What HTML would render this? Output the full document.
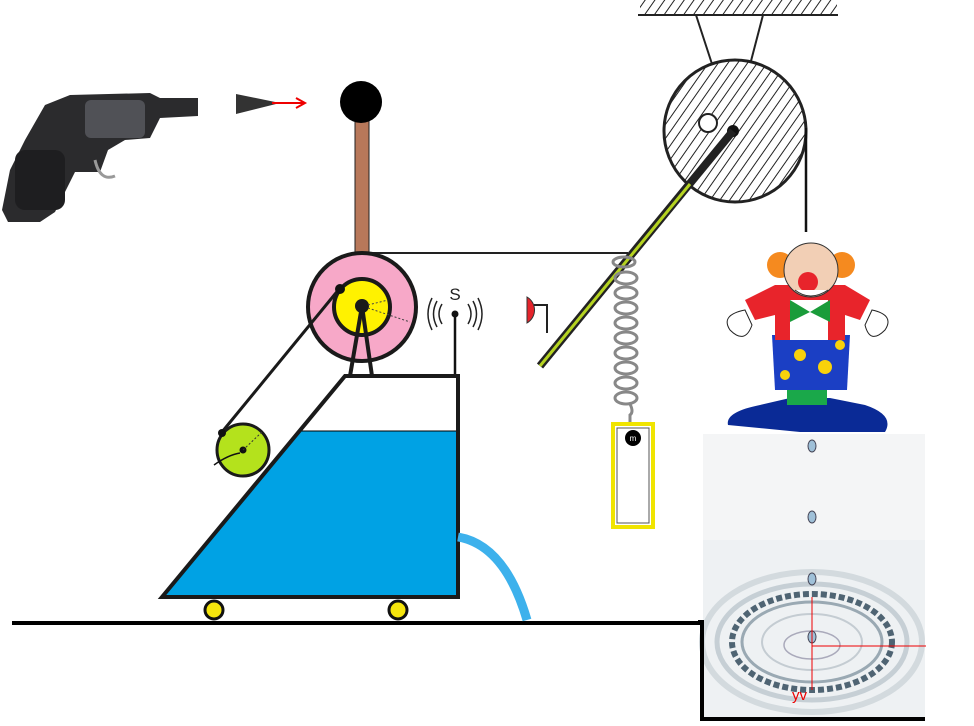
<!DOCTYPE html>
<html><head><meta charset="utf-8"><style>html,body{margin:0;padding:0;background:#fff;width:974px;height:726px;overflow:hidden}</style></head>
<body>
<svg width="974" height="726" viewBox="0 0 974 726" xmlns="http://www.w3.org/2000/svg" style="font-family:'Liberation Sans',sans-serif">
<defs>
<pattern id="h" width="8" height="8" patternUnits="userSpaceOnUse" patternTransform="rotate(35)">
<line x1="0" y1="0" x2="0" y2="8" stroke="#222" stroke-width="2"/></pattern>
</defs>
<!-- gun (revolver) -->
<g>
<path d="M70,95 L150,93 L160,98 L198,98 L198,116 L160,118 L150,138 L125,140 L108,150 L100,172 L75,172 L55,212 L40,222 L8,222 L2,210 L10,170 L25,140 L45,105 Z" fill="#2b2b2d"/>
<rect x="85" y="100" width="60" height="38" rx="6" fill="#505156"/>
<path d="M95,160 Q100,182 115,176" stroke="#999" stroke-width="3" fill="none"/>
<rect x="15" y="150" width="50" height="60" rx="10" fill="#1e1e20"/>
</g>
<!-- bullet -->
<path d="M236,94 L280,103 L236,114 Z" fill="#333"/>
<line x1="272" y1="103" x2="304" y2="103" stroke="#e00" stroke-width="2"/>
<path d="M296,98 L305,103 L296,108" stroke="#e00" stroke-width="2" fill="none"/>
<!-- rod & ball -->
<rect x="355" y="115" width="14" height="140" fill="#b8785a" stroke="#222" stroke-width="1"/>
<circle cx="361" cy="102" r="21" fill="#000"/>
<!-- ceiling -->
<rect x="640" y="0" width="197" height="15" fill="url(#h)"/>
<line x1="638" y1="15" x2="838" y2="15" stroke="#222" stroke-width="2"/>
<line x1="696" y1="15" x2="712" y2="64" stroke="#222" stroke-width="2"/>
<line x1="763" y1="15" x2="733" y2="130" stroke="#222" stroke-width="2"/>
<!-- big pulley -->
<circle cx="735" cy="131" r="71" fill="#fff"/>
<circle cx="735" cy="131" r="71" fill="url(#h)" stroke="#222" stroke-width="3"/>
<circle cx="708" cy="123" r="9" fill="#fff" stroke="#222" stroke-width="2"/>
<circle cx="733" cy="131" r="6" fill="#111"/>
<line x1="806" y1="128" x2="806" y2="232" stroke="#111" stroke-width="2.5"/>
<!-- lever rod -->
<line x1="733" y1="131" x2="540" y2="366" stroke="#222" stroke-width="8"/>
<line x1="690" y1="184" x2="540" y2="366" stroke="#b5d321" stroke-width="3"/>
<!-- string -->
<line x1="369" y1="253" x2="628" y2="253" stroke="#222" stroke-width="2"/>
<!-- red bumper -->
<path d="M527,297 A15,15 0 0 1 527,323 Z" fill="#e4242b" stroke="#333" stroke-width="1"/>
<polyline points="534,305 547,305 547,333" stroke="#222" stroke-width="2" fill="none"/>
<!-- spring -->
<g stroke="#888" stroke-width="3" fill="none">
<ellipse cx="624" cy="262" rx="11" ry="5"/>
<ellipse cx="626" cy="278" rx="11" ry="6"/><ellipse cx="626" cy="293" rx="11" ry="6"/>
<ellipse cx="626" cy="308" rx="11" ry="6"/><ellipse cx="626" cy="323" rx="11" ry="6"/>
<ellipse cx="626" cy="338" rx="11" ry="6"/><ellipse cx="626" cy="353" rx="11" ry="6"/>
<ellipse cx="626" cy="368" rx="11" ry="6"/><ellipse cx="626" cy="383" rx="11" ry="6"/>
<ellipse cx="626" cy="398" rx="11" ry="6"/>
<path d="M630,404 Q634,412 630,415 L630,423"/>
</g>
<rect x="613" y="424" width="40" height="103" fill="#fff" stroke="#f0e400" stroke-width="4"/>
<rect x="617" y="428" width="32" height="95" fill="none" stroke="#555" stroke-width="1"/>
<circle cx="633" cy="438" r="8" fill="#000"/>
<text x="633" y="441" font-size="8" fill="#fff" text-anchor="middle">m</text>
<!-- clown -->
<g>
<path d="M790,398 L760,405 Q725,412 728,425 L800,432 L885,432 Q895,415 865,405 L830,398 Z" fill="#0a2a96"/>
<rect x="787" y="385" width="40" height="20" fill="#1aa84a"/>
<path d="M772,335 L850,335 L847,390 L775,390 Z" fill="#1b3fc4"/>
<circle cx="800" cy="355" r="6" fill="#f8d20b"/><circle cx="825" cy="367" r="7" fill="#f8d20b"/><circle cx="840" cy="345" r="5" fill="#f8d20b"/><circle cx="785" cy="375" r="5" fill="#f8d20b"/>
<path d="M745,300 L775,285 L845,285 L870,300 L860,320 L845,315 L845,340 L775,340 L775,315 L755,320 Z" fill="#e8242b"/>
<rect x="790" y="300" width="38" height="40" fill="#fff"/>
<path d="M745,310 Q720,315 730,330 Q745,345 752,325 Z" fill="#fff" stroke="#222"/>
<path d="M872,310 Q895,315 885,330 Q870,345 865,325 Z" fill="#fff" stroke="#222"/>
<path d="M790,300 L810,312 L830,300 L830,322 L810,312 L790,322 Z" fill="#1a9c3a"/>
<circle cx="780" cy="265" r="13" fill="#f58a1f"/><circle cx="842" cy="265" r="13" fill="#f58a1f"/>
<circle cx="811" cy="270" r="27" fill="#f2cfb5" stroke="#333"/>
<circle cx="808" cy="282" r="10" fill="#e8242b"/>
<path d="M795,290 Q810,302 828,290" stroke="#333" fill="#fff"/>
</g>
<!-- water image -->
<rect x="703" y="434" width="222" height="286" fill="#f4f5f6"/>
<rect x="703" y="540" width="222" height="180" fill="#eef1f3"/>
<g fill="none">
<ellipse cx="812" cy="642" rx="110" ry="70" stroke="#d3dade" stroke-width="6"/>
<ellipse cx="812" cy="642" rx="95" ry="58" stroke="#c6cfd5" stroke-width="5"/>
<ellipse cx="812" cy="642" rx="80" ry="48" stroke="#4f6473" stroke-width="6" stroke-dasharray="6,3"/>
<ellipse cx="812" cy="642" rx="70" ry="40" stroke="#9aa9b3" stroke-width="3"/>
<ellipse cx="812" cy="642" rx="50" ry="28" stroke="#c4ccd2" stroke-width="2"/>
<ellipse cx="812" cy="645" rx="28" ry="14" stroke="#aab" stroke-width="1.5"/>
</g>
<g fill="#9fc0d8" stroke="#445">
<ellipse cx="812" cy="446" rx="4" ry="6"/><ellipse cx="812" cy="517" rx="4" ry="6"/><ellipse cx="812" cy="579" rx="4" ry="6"/><ellipse cx="812" cy="637" rx="4" ry="6"/></g>
<line x1="812" y1="597" x2="812" y2="690" stroke="#e00" stroke-width="1"/>
<line x1="812" y1="646" x2="926" y2="646" stroke="#e00" stroke-width="1"/>
<text x="792" y="700" font-size="15" fill="#e00">yv</text>
<!-- ground -->
<line x1="12" y1="623" x2="704" y2="623" stroke="#000" stroke-width="4"/>
<polyline points="698,622 702,622 702,719 925,719" stroke="#000" stroke-width="4" fill="none"/>
<!-- cart -->
<polygon points="162,597 345,376 458,376 458,597" fill="#fff"/>
<polygon points="300,431 458,431 458,597 162,597" fill="#00a2e4"/>
<line x1="300" y1="431" x2="458" y2="431" stroke="#000" stroke-width="1"/>
<polygon points="162,597 345,376 458,376 458,597" fill="none" stroke="#1a1a1a" stroke-width="4"/>
<path d="M458,537 Q505,545 527,620" stroke="#3db1ec" stroke-width="9" fill="none"/>
<circle cx="214" cy="610" r="9" fill="#f5e50d" stroke="#111" stroke-width="3"/>
<circle cx="398" cy="610" r="9" fill="#f5e50d" stroke="#111" stroke-width="3"/>
<!-- pink pulley -->
<circle cx="362" cy="307" r="54" fill="#f7a8c8" stroke="#1a1a1a" stroke-width="4"/>
<circle cx="362" cy="307" r="28" fill="#fff200" stroke="#1a1a1a" stroke-width="4"/>
<line x1="362" y1="306" x2="350" y2="376" stroke="#1a1a1a" stroke-width="4"/>
<line x1="362" y1="306" x2="372" y2="376" stroke="#1a1a1a" stroke-width="4"/>
<circle cx="362" cy="306" r="7" fill="#1a1a1a"/>
<line x1="368" y1="305" x2="388" y2="300" stroke="#444" stroke-dasharray="2,2"/>
<line x1="368" y1="308" x2="410" y2="322" stroke="#444" stroke-dasharray="2,2"/>
<!-- belt -->
<line x1="340" y1="288" x2="222" y2="432" stroke="#1a1a1a" stroke-width="3"/>
<circle cx="340" cy="289" r="5" fill="#111"/>
<!-- green wheel -->
<circle cx="243" cy="450" r="26" fill="#b4e21c" stroke="#1a1a1a" stroke-width="3"/>
<circle cx="222" cy="433" r="4" fill="#111"/>
<circle cx="243" cy="450" r="3.5" fill="#111"/>
<line x1="243" y1="450" x2="262" y2="432" stroke="#333" stroke-dasharray="2,2"/>
<path d="M214,465 Q228,455 240,453" stroke="#111" stroke-width="1.5" fill="none"/>
<!-- antenna -->
<text x="455" y="300" font-size="17" text-anchor="middle" fill="#222">S</text>
<line x1="455" y1="314" x2="455" y2="374" stroke="#111" stroke-width="2.5"/>
<circle cx="455" cy="314" r="3.5" fill="#111"/>
<g stroke="#222" stroke-width="1.5" fill="none">
<path d="M442,304 Q436,314 442,324"/><path d="M437,301 Q430,314 437,327"/><path d="M432,298 Q424,314 432,330"/>
<path d="M468,304 Q474,314 468,324"/><path d="M473,301 Q480,314 473,327"/><path d="M478,298 Q486,314 478,330"/>
</g>
</svg>
</body></html>
